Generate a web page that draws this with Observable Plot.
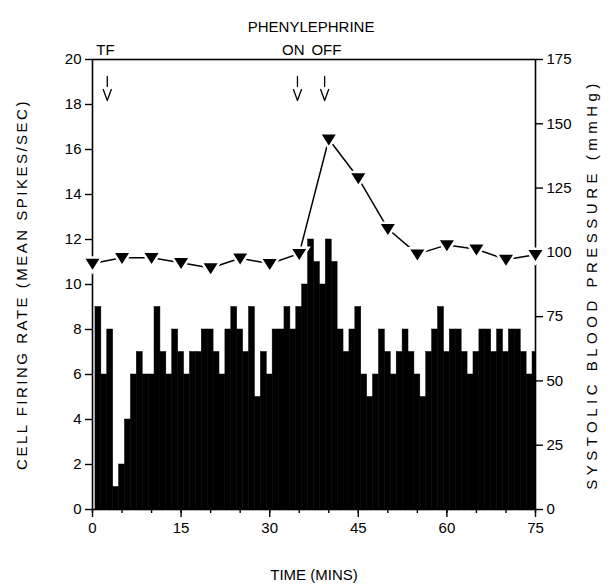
<!DOCTYPE html>
<html>
<head>
<meta charset="utf-8">
<script src="https://cdn.jsdelivr.net/npm/d3@7"></script>
<script src="https://cdn.jsdelivr.net/npm/@observablehq/plot@0.6"></script>
<style>
  html, body { margin: 0; padding: 0; background: #fff; }
  #chart svg { display: block; }
</style>
</head>
<body>
<div id="chart"></div>
<script>
// ---- data ----
const binMinute = [1,2,3,4,5,6,7,8,9,10,11,12,13,14,15,16,17,18,19,20,21,22,23,24,25,26,27,28,29,30,31,32,33,34,35,36,37,38,39,40,41,42,43,44,45,46,47,48,49,50,51,52,53,54,55,56,57,58,59,60,61,62,63,64,65,66,67,68,69,70,71,72,73,74,75];
const firingRate = [9,6,8,1,2,4,6,7,6,6, 9,7,6,8,7,6,7,7,8,8, 7,6,8,9,8,7,9,5,7,6, 8,8,9,8,9,10,12,11,10,12, 11,8,7,8,9,6,5,6,8,7, 6,7,8,7,6,5,7,8,9,7, 8,8,7,6,7,8,8,7,8,7, 8,8,7,6,7];

const bpMinute = [0,5,10,15,20,25,30,35,40,45,50,55,60,65,70,75];
const systolicBP = [95.7,97.9,97.9,96.0,93.9,97.7,95.6,99.5,144.0,128.9,109.2,99.3,102.9,101.2,97.2,99.1];

const eventMinute = [2.5, 34.7, 39.3];
const eventLabel = ["TF", "ON", "OFF"];
const eventLabelMinute = [2.2, 34.0, 39.6];
const drugLabel = "PHENYLEPHRINE";

const leftTicks = [0,2,4,6,8,10,12,14,16,18,20];
const rightTicks = [0,25,50,75,100,125,150,175];
const xMajorTicks = [0,15,30,45,60,75];
const xMinorTicks = [0,5,10,15,20,25,30,35,40,45,50,55,60,65,70,75];

const yLabel = "CELL FIRING RATE (MEAN SPIKES/SEC)";
const y2Label = "SYSTOLIC BLOOD PRESSURE (mmHg)";
const xLabel = "TIME (MINS)";

// ---- derived tables ----
const xMax = 75, yMax = 20, bpMax = 175;
const bins = binMinute.map((m, i) => ({m, rate: firingRate[i]}));
const bpData = bpMinute.map((m, i) => ({m, bp: systolicBP[i]}));
const events = eventMinute.map((t, i) => ({t, lt: eventLabelMinute[i], label: eventLabel[i]}));
const bpToY = v => v * yMax / bpMax;

const triDown = {
  draw(context, size) {
    const r = Math.sqrt(size / Math.PI);
    context.moveTo(-r, -0.68 * r);
    context.lineTo(r, -0.68 * r);
    context.lineTo(0, 0.9 * r);
    context.closePath();
  }
};
const brokenArrow = {
  draw(context, l, r) {
    context.moveTo(0, 0);
    context.lineTo(0, -l * 0.42);
    context.moveTo(-r, -l + 2.75 * r);
    context.lineTo(0, -l);
    context.lineTo(r, -l + 2.75 * r);
  }
};

const font = "'Liberation Sans', Arial, Helvetica, sans-serif";

const chart = Plot.plot({
  width: 616,
  height: 584,
  marginLeft: 92,
  marginRight: 81,
  marginTop: 59,
  marginBottom: 75,
  style: {fontFamily: font, fontSize: "15px", color: "black", background: "white", overflow: "visible"},
  x: {domain: [0, xMax]},
  y: {domain: [0, yMax]},
  marks: [
    Plot.rect(bins, {
      x1: d => d.m - 0.5,
      x2: d => Math.min(d.m + 0.5, xMax),
      y1: 0,
      y2: "rate",
      fill: "black",
      stroke: "black",
      strokeWidth: 0.5
    }),
    Plot.frame({stroke: "black", strokeWidth: 1.6}),
    Plot.axisY({ticks: leftTicks, tickSize: 7, tickPadding: 4, label: null, strokeWidth: 1.4}),
    Plot.axisY({anchor: "right", ticks: rightTicks.map(bpToY), tickFormat: (d, i) => rightTicks[i],
                tickSize: 7, tickPadding: 4, label: null, strokeWidth: 1.4}),
    Plot.axisX({ticks: xMinorTicks, tickSize: 4, tickFormat: () => "", label: null, strokeWidth: 1.4}),
    Plot.axisX({ticks: xMajorTicks, tickSize: 8, tickPadding: 5, label: null, strokeWidth: 1.4}),
    Plot.line(bpData, {x: "m", y: d => bpToY(d.bp), stroke: "black", strokeWidth: 1.5}),
    Plot.dot(bpData, {x: "m", y: d => bpToY(d.bp), symbol: triDown, r: 7,
                      fill: "black", stroke: "white", strokeWidth: 5, paintOrder: "stroke"}),
    Plot.vector(events, {x: "t", frameAnchor: "top", dy: 17, length: 24, rotate: 180,
                         anchor: "start", shape: brokenArrow, r: 4, stroke: "black", strokeWidth: 1.3}),
    Plot.text(events, {x: "lt", text: "label", frameAnchor: "top", dy: -15, fontSize: 15}),
    Plot.text([drugLabel], {x: () => (eventMinute[1] + eventMinute[2]) / 2, text: d => d,
                            frameAnchor: "top", dy: -38, fontSize: 15}),
    Plot.text([yLabel], {frameAnchor: "left", textAnchor: "middle", dx: -70, rotate: -90,
                         text: d => d, fontSize: 15}),
    Plot.text([y2Label], {frameAnchor: "right", textAnchor: "middle", dx: 57, rotate: -90,
                          text: d => d, fontSize: 15}),
    Plot.text([xLabel], {frameAnchor: "bottom", textAnchor: "middle", dy: 70, text: d => d, fontSize: 15})
  ]
});
// letter spacing of the rotated axis titles
chart.querySelectorAll("text").forEach(t => {
  if (t.textContent === yLabel) t.setAttribute("letter-spacing", "2.5");
  if (t.textContent === y2Label) t.setAttribute("letter-spacing", "4.5");
});
document.getElementById("chart").appendChild(chart);
</script>
</body>
</html>
